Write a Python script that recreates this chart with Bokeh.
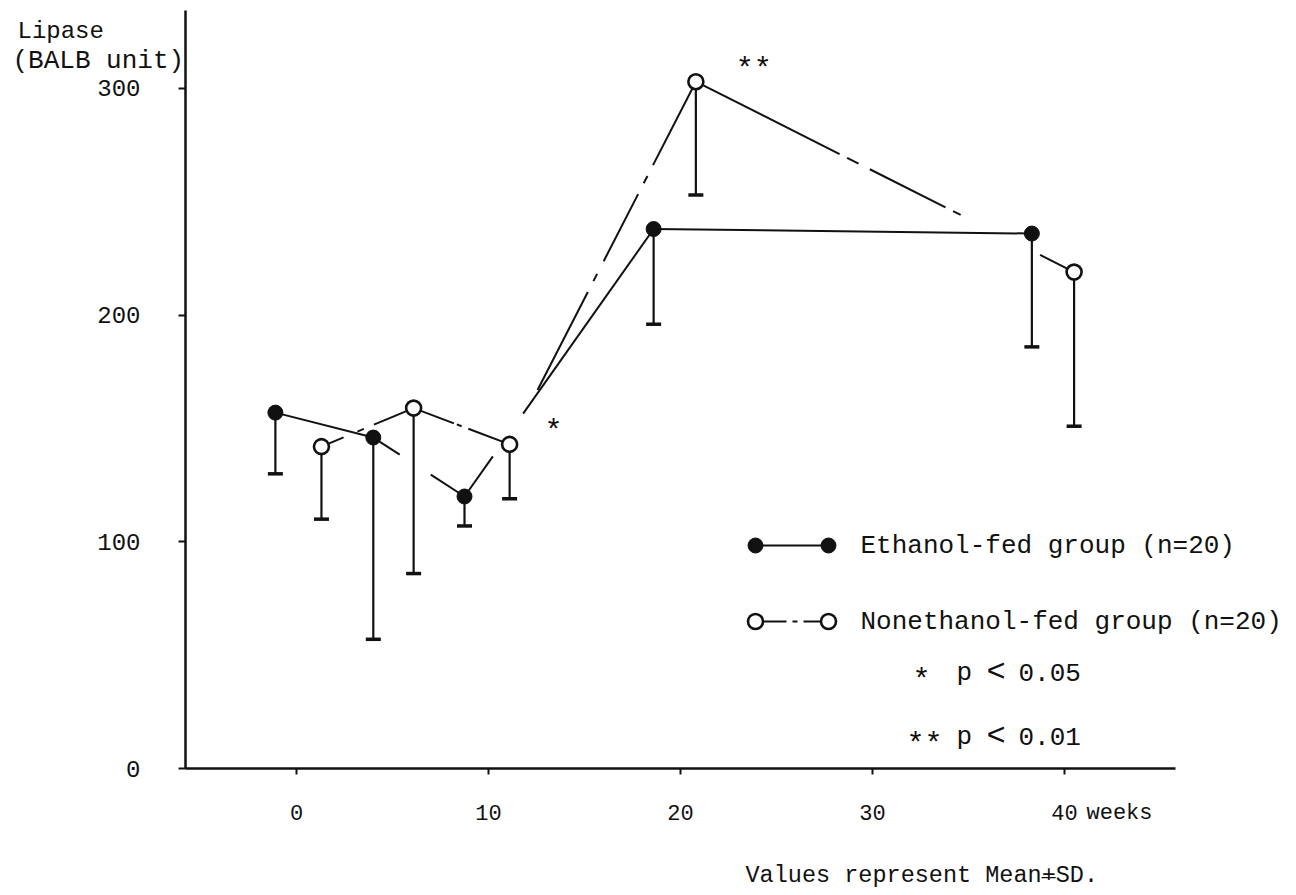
from bokeh.plotting import figure
from bokeh.models import Range1d, Label, FixedTicker
from bokeh.embed import file_html
from bokeh.resources import INLINE

# Serum lipase over the feeding period (BALB units), mean and SD
weeks_ethanol = [-1.1, 4.0, 8.75, 18.6, 38.3]
lipase_ethanol = [157, 146, 120, 238, 236]
sd_ethanol = [27, 89, 13, 42, 50]

weeks_nonethanol = [1.3, 6.1, 11.1, 20.8, 40.5]
lipase_nonethanol = [142, 159, 143, 303, 219]
sd_nonethanol = [32, 73, 24, 50, 68]

# significance marks attached to the nonethanol-fed points
sig_nonethanol = ["", "", "*", "**", ""]

x_ticks = [0, 10, 20, 30, 40]
y_ticks = [0, 100, 200, 300]

legend_ethanol = "Ethanol-fed group (n=20)"
legend_nonethanol = "Nonethanol-fed group (n=20)"
footnote = "Values represent Mean+SD."

FONT = "Liberation Mono"
INK = "#111111"

# canvas and data mapping: the frame fills the canvas, axes sit inside it
W, H = 1296, 895
PX_X0, PX_PER_WEEK = 296.0, 19.2        # pixel of week 0, pixels per week
PX_Y0, PX_PER_UNIT = 768.0, 758.0 / 334.4
X0, X1 = -PX_X0 / PX_PER_WEEK, (W - PX_X0) / PX_PER_WEEK
Y0, Y1 = -(H - PX_Y0) / PX_PER_UNIT, PX_Y0 / PX_PER_UNIT
X_AXIS_BOUNDS = ((185 - PX_X0) / PX_PER_WEEK, (1175 - PX_X0) / PX_PER_WEEK)
Y_AXIS_BOUNDS = (0, (PX_Y0 - 10) / PX_PER_UNIT)


def to_data(xp, yp):
    """Canvas pixel position -> data coordinates (for annotations)."""
    return X0 + xp / W * (X1 - X0), Y1 - yp / H * (Y1 - Y0)


def broken(xs, ys, spans):
    """Split a polyline into the visible pieces of each segment."""
    out_x, out_y = [], []
    for i, segs in enumerate(spans):
        xa, xb, ya, yb = xs[i], xs[i + 1], ys[i], ys[i + 1]
        for f0, f1 in segs:
            out_x.append([xa + (xb - xa) * f0, xa + (xb - xa) * f1])
            out_y.append([ya + (yb - ya) * f0, ya + (yb - ya) * f1])
    return out_x, out_y


# visible stretches of each connecting segment (hand-drawn breaks / dash-dot)
ethanol_spans = [
    [(0, 1)],
    [(0, 0.29), (0.63, 1)],
    [(0, 0.15), (0.31, 1)],
    [(0, 1)],
]
nonethanol_spans = [
    [(0, 0.24), (0.39, 0.46), (0.57, 1)],
    [(0, 0.42), (0.45, 0.50), (0.57, 1)],
    [(0.15, 0.42), (0.45, 0.47), (0.505, 0.69), (0.72, 0.74), (0.77, 1)],
    [(0, 0.38), (0.40, 0.43), (0.46, 0.66), (0.68, 0.70), (0.91, 1)],
]

p = figure(
    width=W, height=H,
    x_range=Range1d(X0, X1), y_range=Range1d(Y0, Y1),
    output_backend="svg", toolbar_location=None,
    min_border_left=0, min_border_right=0, min_border_top=0, min_border_bottom=0,
)
p.outline_line_color = None
p.grid.visible = False
p.background_fill_color = "white"
p.border_fill_color = "white"

for ax in (p.xaxis[0], p.yaxis[0]):
    ax.axis_line_color = INK
    ax.axis_line_width = 2.5
    ax.major_tick_line_color = INK
    ax.major_tick_line_width = 2
    ax.major_tick_in = 0
    ax.minor_tick_line_color = None
    ax.major_label_text_font = FONT
    ax.major_label_text_color = INK
    ax.major_label_text_font_style = "normal"

p.xaxis.fixed_location = 0
p.xaxis.bounds = X_AXIS_BOUNDS
p.xaxis.ticker = FixedTicker(ticks=x_ticks)
p.xaxis.major_tick_out = 6
p.xaxis.major_label_text_font_size = "22px"
p.xaxis.major_label_standoff = 30

p.yaxis.fixed_location = X_AXIS_BOUNDS[0]
p.yaxis.bounds = Y_AXIS_BOUNDS
p.yaxis.ticker = FixedTicker(ticks=y_ticks)
p.yaxis.major_tick_out = 7
p.yaxis.major_label_text_font_size = "24px"
p.yaxis.major_label_standoff = 38

# connecting lines
ex, ey = broken(weeks_ethanol, lipase_ethanol, ethanol_spans)
p.multi_line(ex, ey, line_color=INK, line_width=2)
nx, ny = broken(weeks_nonethanol, lipase_nonethanol, nonethanol_spans)
p.multi_line(nx, ny, line_color=INK, line_width=2)

# SD bars drawn downward from each mean
for xs, ms, sds in ((weeks_ethanol, lipase_ethanol, sd_ethanol),
                    (weeks_nonethanol, lipase_nonethanol, sd_nonethanol)):
    lows = [m - s for m, s in zip(ms, sds)]
    p.segment(x0=xs, y0=ms, x1=xs, y1=lows, line_color=INK, line_width=2.2)
    p.scatter(x=xs, y=lows, marker="dash", size=15, line_color=INK, line_width=3.5)

# group markers
p.scatter(x=weeks_ethanol, y=lipase_ethanol, marker="circle", size=15,
          fill_color=INK, line_color=INK, line_width=1)
p.scatter(x=weeks_nonethanol, y=lipase_nonethanol, marker="circle", size=15,
          fill_color="white", line_color=INK, line_width=2.6)


def label(text, xp, yp, size="24px", align="left", baseline="middle"):
    x, y = to_data(xp, yp)
    p.add_layout(Label(x=x, y=y, text=text, text_font=FONT, text_font_size=size,
                       text_color=INK, text_align=align, text_baseline=baseline))


# significance asterisks next to the points
for wk, val, mark in zip(weeks_nonethanol, lipase_nonethanol, sig_nonethanol):
    if mark:
        dx = 35 if len(mark) == 1 else 40
        p.add_layout(Label(x=wk, y=val, text=mark, x_offset=dx, y_offset=12,
                           text_font=FONT, text_font_size="30px", text_color=INK,
                           text_align="left", text_baseline="middle"))

# axis title and units
label("Lipase", 17, 31, size="24px")
label("(BALB unit)", 12, 60, size="26px")
p.add_layout(Label(x=x_ticks[-1], y=0, text="weeks", x_offset=22, y_offset=-45,
                   text_font=FONT, text_font_size="22px", text_color=INK,
                   text_align="left", text_baseline="middle"))

# legend: filled group
lx0, ly = to_data(755, 545)
lx1, _ = to_data(828, 545)
p.line([lx0, lx1], [ly, ly], line_color=INK, line_width=2)
p.scatter([lx0, lx1], [ly, ly], marker="circle", size=15, fill_color=INK, line_color=INK)
label(legend_ethanol, 860, 545, size="26px")

# legend: open group (dash-dot)
_, ly2 = to_data(0, 621)
for a, b in ((755, 786), (792, 797), (803, 828)):
    xa, _ = to_data(a, 621)
    xb, _ = to_data(b, 621)
    p.line([xa, xb], [ly2, ly2], line_color=INK, line_width=2)
p.scatter([lx0, lx1], [ly2, ly2], marker="circle", size=15, fill_color="white",
          line_color=INK, line_width=2.6)
label(legend_nonethanol, 860, 621, size="26px")

# significance key
label("*", 912, 680, size="30px")
label("p", 956, 672, size="26px")
label("<", 986, 672, size="32px")
label("0.05", 1018, 672, size="26px")
label("**", 906, 744, size="30px")
label("p", 956, 736, size="26px")
label("<", 986, 736, size="32px")
label("0.01", 1018, 736, size="26px")

# footnote, with the "+" underlined to read as plus-minus
FOOT_SIZE = 23.5
label(footnote, 745, 875, size=f"{FOOT_SIZE}px")
label("_", 745 + footnote.index("+") * FOOT_SIZE * 0.6, 869, size=f"{FOOT_SIZE}px")

open("out.html", "w").write(file_html(p, INLINE))
